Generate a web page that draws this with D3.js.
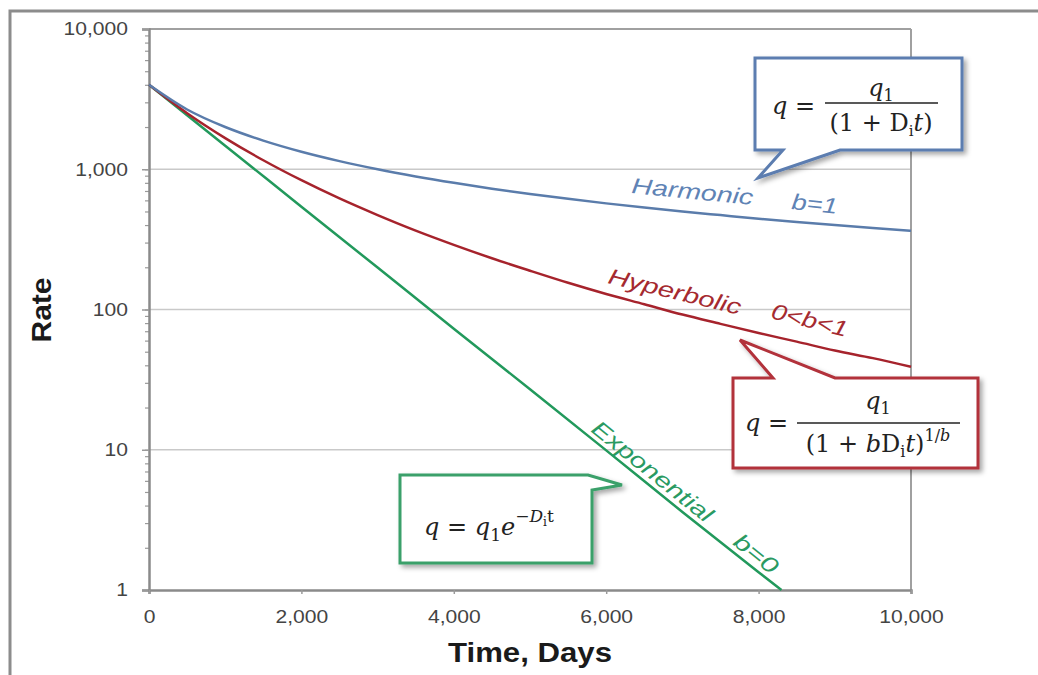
<!DOCTYPE html>
<html lang="en">
<head>
<meta charset="UTF-8">
<title>Decline Curve Types with D3.js</title>
<script src="https://d3js.org/d3.v7.min.js"></script>
<style>
    body { margin: 0; background: #fff; }
    .tick text { font-family: "Liberation Sans", Arial, sans-serif; font-size: 18px; fill: #444; }
    .axis-name { font-family: "Liberation Sans", Arial, sans-serif; font-weight: bold; font-size: 27px; fill: #1a1a1a; }
    .curve-label { font-family: "Liberation Sans", Arial, sans-serif; font-style: italic; font-size: 22px; }
    .formula { font-family: "DejaVu Serif", serif; font-size: 24px; fill: #222; }
    .it { font-style: italic; }
</style>
</head>
<body>
<script>
    // values
    const days = [0, 500, 1000, 1500, 2000, 2500, 3000, 3500, 4000, 4500, 5000,
                  5500, 6000, 6500, 7000, 7500, 8000, 8500, 9000, 9500, 10000];
    const harmonic = [4000, 2667, 2000, 1600, 1333, 1143, 1000, 889, 800, 727, 667,
                      615, 571, 533, 500, 471, 444, 421, 400, 381, 364];
    const hyperbolic = [4000, 2510, 1668, 1159, 835, 619, 471, 365, 289, 232, 189,
                        155, 129, 109, 92, 79, 68, 59, 51, 45, 39];
    const expDays = [0, 1000, 2000, 3000, 4000, 5000, 6000, 7000, 8000, 8300];
    const exponential = [4000, 1472, 541, 199, 73, 27, 9.9, 3.6, 1.34, 1.0];

    const dayTicks = [0, 2000, 4000, 6000, 8000, 10000];
    const rateTicks = [1, 10, 100, 1000, 10000];

    const svg = d3.select('body').append('svg')
        .attr('width', 1038)
        .attr('height', 675);

    const defs = svg.append('defs');
    defs.append('filter').attr('id', 'shadow')
        .attr('x', '-10%').attr('y', '-10%').attr('width', '130%').attr('height', '140%')
        .append('feDropShadow')
        .attr('dx', 3).attr('dy', 3).attr('stdDeviation', 2.5)
        .attr('flood-color', '#000').attr('flood-opacity', 0.35);

    const x = d3.scaleLinear().domain([0, 10000]).range([149, 911]);
    const y = d3.scaleLog().domain([1, 10000]).range([590, 29]);

    // outer frame
    svg.append('path')
        .attr('d', 'M10,675 V11 H1038')
        .attr('fill', 'none')
        .attr('stroke', '#8c8c8c')
        .attr('stroke-width', 3);

    // horizontal grid lines
    svg.selectAll('.grid')
        .data(rateTicks.slice(1))
        .enter().append('line')
        .attr('class', 'grid')
        .attr('x1', x(0)).attr('x2', x(10000))
        .attr('y1', d => y(d)).attr('y2', d => y(d))
        .attr('stroke', d => d === 10000 ? '#a0a0a0' : '#c9c9c9')
        .attr('stroke-width', d => d === 10000 ? 2 : 1.5);

    // right border
    svg.append('line')
        .attr('x1', x(10000)).attr('x2', x(10000))
        .attr('y1', y(10000)).attr('y2', y(1))
        .attr('stroke', '#a0a0a0')
        .attr('stroke-width', 2);

    // minor ticks on the rate axis
    svg.append('g')
        .attr('transform', `translate(${x(0)},0)`)
        .call(d3.axisLeft(y).ticks(10).tickSize(4).tickFormat(''))
        .call(g => g.select('.domain').remove())
        .call(g => g.selectAll('line').attr('stroke', '#9a9a9a').attr('stroke-width', 1.2));

    const yAxis = svg.append('g')
        .attr('transform', `translate(${x(0)},0)`)
        .call(d3.axisLeft(y).tickValues(rateTicks).tickFormat(d3.format(',')).tickSize(7).tickPadding(14));

    const xAxis = svg.append('g')
        .attr('transform', `translate(0,${y(1)})`)
        .call(d3.axisBottom(x).tickValues(dayTicks).tickFormat(d3.format(',')).tickSize(4).tickPadding(16));

    [yAxis, xAxis].forEach(g => {
        g.select('.domain').attr('stroke', '#8a8a8a').attr('stroke-width', 2.5);
        g.selectAll('.tick line').attr('stroke', '#9a9a9a').attr('stroke-width', 1.5);
        g.selectAll('.tick text').each(function () {
            const len = this.getComputedTextLength();
            d3.select(this).attr('textLength', len * 1.17).attr('lengthAdjust', 'spacingAndGlyphs');
        });
    });

    // curves
    const line = d3.line()
        .x(d => x(d[0]))
        .y(d => y(d[1]))
        .curve(d3.curveMonotoneX);

    const curves = [
        { pts: d3.zip(expDays, exponential), color: '#22995c' },
        { pts: d3.zip(days, hyperbolic), color: '#a6232c' },
        { pts: d3.zip(days, harmonic), color: '#5a7cab' }
    ];
    svg.selectAll('.curve')
        .data(curves)
        .enter().append('path')
        .attr('class', 'curve')
        .attr('fill', 'none')
        .attr('stroke', d => d.color)
        .attr('stroke-width', 2.5)
        .attr('d', d => line(d.pts));

    // curve labels
    const labels = [
        { text: 'Harmonic', x: 631, y: 193, rot: 5.6, len: 122, color: '#6083b5' },
        { text: 'b=1', x: 791, y: 209, rot: 6, len: 46, color: '#6083b5' },
        { text: 'Hyperbolic', x: 607, y: 283, rot: 13.5, len: 136, color: '#a52a30' },
        { text: '0<b<1', x: 770, y: 318, rot: 14, len: 78, color: '#a52a30' },
        { text: 'Exponential', x: 590, y: 431, rot: 38.7, len: 148, color: '#2a9a62' },
        { text: 'b=0', x: 732, y: 544, rot: 38.7, len: 50, color: '#2a9a62' }
    ];
    svg.selectAll('.curve-label')
        .data(labels)
        .enter().append('text')
        .attr('class', 'curve-label')
        .attr('transform', d => `translate(${d.x},${d.y}) rotate(${d.rot})`)
        .attr('textLength', d => d.len)
        .attr('lengthAdjust', 'spacingAndGlyphs')
        .attr('fill', d => d.color)
        .text(d => d.text);

    // callout boxes
    const callouts = [
        { d: 'M755,58 H962 V150 H840 L758,178 L783,150 H755 Z', color: '#5b7db0' },
        { d: 'M733,378 H773 L740,340 L835,378 H978 V468 H733 Z', color: '#b2303a' },
        { d: 'M400,475 H588 L622,485 L592,490 V563 H400 Z', color: '#3aa06a' }
    ];
    svg.selectAll('.callout')
        .data(callouts)
        .enter().append('path')
        .attr('class', 'callout')
        .attr('d', d => d.d)
        .attr('fill', '#fff')
        .attr('stroke', d => d.color)
        .attr('stroke-width', 3)
        .attr('stroke-linejoin', 'miter')
        .attr('filter', 'url(#shadow)');

    // harmonic formula
    let t = svg.append('text').attr('class', 'formula').attr('x', 772).attr('y', 114).attr('font-size', 25);
    t.append('tspan').attr('class', 'it').text('q');
    t.append('tspan').text(' =');
    t = svg.append('text').attr('class', 'formula').attr('x', 881).attr('y', 96).attr('text-anchor', 'middle')
        .attr('font-size', 26);
    t.append('tspan').attr('class', 'it').text('q');
    t.append('tspan').attr('font-size', 16).attr('dy', 5).text('1');
    svg.append('line').attr('x1', 825).attr('x2', 938).attr('y1', 103).attr('y2', 103)
        .attr('stroke', '#222').attr('stroke-width', 1.5);
    t = svg.append('text').attr('class', 'formula').attr('x', 881).attr('y', 131).attr('text-anchor', 'middle')
        .attr('font-size', 25);
    t.append('tspan').text('(1 + D');
    t.append('tspan').attr('font-size', 15).attr('dy', 5).text('i');
    t.append('tspan').attr('class', 'it').attr('dy', -5).text('t');
    t.append('tspan').text(')');

    // hyperbolic formula
    t = svg.append('text').attr('class', 'formula').attr('x', 745).attr('y', 431).attr('font-size', 25);
    t.append('tspan').attr('class', 'it').text('q');
    t.append('tspan').text(' =');
    t = svg.append('text').attr('class', 'formula').attr('x', 878).attr('y', 409).attr('text-anchor', 'middle')
        .attr('font-size', 26);
    t.append('tspan').attr('class', 'it').text('q');
    t.append('tspan').attr('font-size', 16).attr('dy', 5).text('1');
    svg.append('line').attr('x1', 797).attr('x2', 960).attr('y1', 423).attr('y2', 423)
        .attr('stroke', '#222').attr('stroke-width', 1.5);
    t = svg.append('text').attr('class', 'formula').attr('x', 878).attr('y', 452).attr('text-anchor', 'middle')
        .attr('font-size', 27);
    t.append('tspan').text('(1 + ');
    t.append('tspan').attr('class', 'it').text('b');
    t.append('tspan').text('D');
    t.append('tspan').attr('font-size', 16).attr('dy', 5).text('i');
    t.append('tspan').attr('class', 'it').attr('dy', -5).text('t');
    t.append('tspan').text(')');
    t.append('tspan').attr('font-size', 16).attr('dy', -11).text('1/');
    t.append('tspan').attr('font-size', 16).attr('class', 'it').text('b');

    // exponential formula
    t = svg.append('text').attr('class', 'formula').attr('x', 424).attr('y', 535).attr('font-size', 28);
    t.append('tspan').attr('class', 'it').text('q');
    t.append('tspan').text(' =  ');
    t.append('tspan').attr('class', 'it').text('q');
    t.append('tspan').attr('font-size', 17).attr('dy', 6).text('1');
    t.append('tspan').attr('class', 'it').attr('dy', -6).text('e');
    t.append('tspan').attr('font-size', 17).attr('dy', -13).text('−');
    t.append('tspan').attr('font-size', 17).attr('class', 'it').text('D');
    t.append('tspan').attr('font-size', 12).attr('dy', 4).text('i');
    t.append('tspan').attr('font-size', 17).attr('dy', -4).text('t');

    // axis names
    svg.append('text')
        .attr('class', 'axis-name')
        .attr('transform', 'translate(51,310) rotate(-90)')
        .attr('text-anchor', 'middle')
        .attr('textLength', 65)
        .attr('lengthAdjust', 'spacingAndGlyphs')
        .text('Rate');

    svg.append('text')
        .attr('class', 'axis-name')
        .attr('x', 530)
        .attr('y', 662)
        .attr('text-anchor', 'middle')
        .attr('textLength', 164)
        .attr('lengthAdjust', 'spacingAndGlyphs')
        .text('Time, Days');
</script>
</body>
</html>
